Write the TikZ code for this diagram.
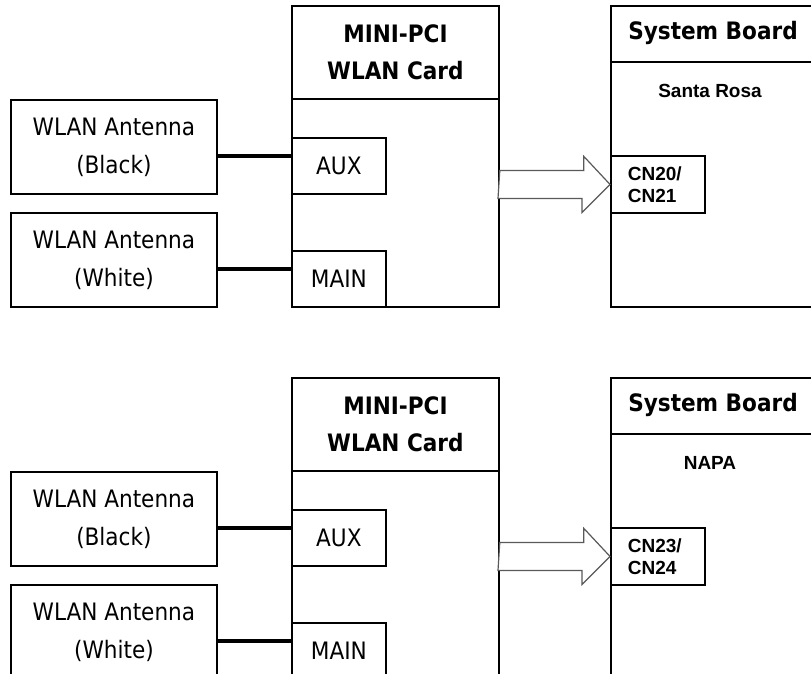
\documentclass[tikz,border=0pt]{standalone}
\usepackage{fontspec}
\setmainfont{DejaVu Sans Condensed}
\newfontfamily\boardfont{Liberation Sans}
\usetikzlibrary{calc}

\begin{document}
\begin{tikzpicture}[x=1pt, y=-1pt, line width=1.8pt,
        every node/.append style={inner sep=0pt}]
      \tikzstyle{box} = [draw, rectangle, anchor=north west, align=center, font=\fontsize{24}{38}\selectfont]
      \tikzstyle{title} = [font=\fontsize{24}{37}\selectfont\bfseries, align=center]
      \tikzstyle{chip} = [font=\boardfont\bfseries\fontsize{19}{22}\selectfont]
      \tikzstyle{cable} = [line width=4pt]
      \tikzstyle{fatarrow} = [line width=1.2pt, draw=black!65, fill=white, line join=miter]
      \clip (0,0) rectangle (811,674);
      \foreach \dy/\chipset/\cna/\cnb [count=\i] in {0/Santa Rosa/CN20/CN21, 372/NAPA/CN23/CN24} {
        \node (antB\i) [box, minimum width=206, minimum height=94] at (10,99+\dy) {WLAN Antenna\\(Black)};
        \node (antW\i) [box, minimum width=206, minimum height=94] at (10,212+\dy) {WLAN Antenna\\(White)};
        \node (card\i) [box, minimum width=207, minimum height=301] at (291,5+\dy) {};
        \draw ($(card\i.north west)+(0,94)$) -- ($(card\i.north east)+(0,94)$);
        \node (cardname\i) [title] at ($(card\i.north)+(0,47.5)$) {MINI-PCI\\WLAN Card};
        \node (aux\i) [box, minimum width=94, minimum height=56] at (291,137+\dy) {AUX};
        \node (main\i) [box, minimum width=94, minimum height=56] at (291,250+\dy) {MAIN};
        \node (board\i) [box, minimum width=240, minimum height=301] at (610,5+\dy) {};
        \draw ($(board\i.north west)+(0,57)$) -- ($(board\i.north east)+(0,57)$);
        \node (boardname\i) [title] at (713,33+\dy) {System Board};
        \node (chipset\i) [chip] at (710,91+\dy) {\chipset};
        \node (cn\i) [box, chip, minimum width=94, minimum height=57, text width=60, align=left] at (610,155+\dy) {\cna/\\\cnb};
        \coordinate (auxin\i) at ([yshift=10pt]aux\i.west);
        \coordinate (mainin\i) at ([yshift=10pt]main\i.west);
        \draw[cable] (antB\i.east |- auxin\i) -- (auxin\i);
        \draw[cable] (antW\i.east |- mainin\i) -- (mainin\i);
        \draw[fatarrow] (card\i.east |- cn\i.west) ++(0,-14) -- ++(84,0) -- ++(0,-14)
          -- (cn\i.west) -- ++(-28,28) -- ++(0,-14) -- ++(-84,0) -- cycle;
      }
    \end{tikzpicture}
\end{document}
